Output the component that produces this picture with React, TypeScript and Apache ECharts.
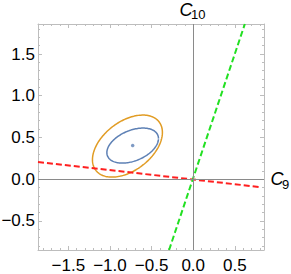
import React, { useEffect, useRef } from "react";
import * as echarts from "echarts";

const xLimits = [-1.864, 0.85];
const yLimits = [-0.85, 1.86];
const xMajorTicks = [-1.5, -1.0, -0.5, 0.0, 0.5];
const yMajorTicks = [-0.5, 0.0, 0.5, 1.0, 1.5];
const xMinorTicks = [-1.8, -1.7, -1.6, -1.4, -1.3, -1.2, -1.1, -0.9, -0.8, -0.7, -0.6, -0.4, -0.3, -0.2, -0.1, 0.1, 0.2, 0.3, 0.4, 0.6, 0.7, 0.8];
const yMinorTicks = [-0.8, -0.7, -0.6, -0.4, -0.3, -0.2, -0.1, 0.1, 0.2, 0.3, 0.4, 0.6, 0.7, 0.8, 0.9, 1.1, 1.2, 1.3, 1.4, 1.6, 1.7, 1.8];

const bestFitPoint = [[-0.727, 0.402]];
// [center x, center y, half-width, half-height, correlation]
const innerEllipse = [-0.727, 0.402, 0.31, 0.21, 0.4];
const outerEllipse = [-0.79, 0.396, 0.42, 0.372, 0.44];
const redLine = [[-1.864, 0.205], [0.8, -0.095]];
const greenLine = [[-0.29, -0.85], [0.62, 1.86]];

const FONT = "'Liberation Sans', Arial, sans-serif";
const FRAME = "#bdbdbd";
const BLUE = "#5e81b5";
const ORANGE = "#e19c24";

function ellipsePoints(p: number[]) {
  const [cx, cy, sx, sy, rho] = p;
  const pts: number[][] = [];
  const n = 160;
  for (let i = 0; i <= n; i++) {
    const t = (2 * Math.PI * i) / n;
    pts.push([cx + sx * Math.cos(t), cy + sy * (rho * Math.cos(t) + Math.sqrt(1 - rho * rho) * Math.sin(t))]);
  }
  return pts;
}

const fmt = (v: number) => (v < 0 ? "\u2212" : "") + Math.abs(v).toFixed(1);

export default function App() {
  const ref = useRef<HTMLDivElement>(null);
  useEffect(() => {
    if (!ref.current) return;
    const chart = echarts.init(ref.current, null, { renderer: "svg" });
    const gridRect = { left: 38, top: 24, width: 226, height: 226, outerBoundsMode: "none" };
    const baseX = (gridIndex: number, position: string) => ({
      type: "value",
      gridIndex,
      position,
      min: xLimits[0],
      max: xLimits[1],
      splitLine: { show: false },
    });
    const baseY = (gridIndex: number, position: string) => ({
      type: "value",
      gridIndex,
      position,
      min: yLimits[0],
      max: yLimits[1],
      splitLine: { show: false },
    });
    const majorX = (position: string, labels: boolean) => ({
      ...baseX(0, position),
      axisLine: { show: true, onZero: false, lineStyle: { color: FRAME, width: 1 } },
      axisTick: { show: true, inside: true, length: 4, customValues: xMajorTicks, lineStyle: { color: FRAME } },
      axisLabel: {
        show: labels,
        customValues: xMajorTicks,
        formatter: fmt,
        color: "#000",
        fontSize: 17,
        fontFamily: FONT,
        margin: 7,
      },
    });
    const majorY = (position: string, labels: boolean) => ({
      ...baseY(0, position),
      axisLine: { show: true, onZero: false, lineStyle: { color: FRAME, width: 1 } },
      axisTick: { show: true, inside: true, length: 4, customValues: yMajorTicks, lineStyle: { color: FRAME } },
      axisLabel: {
        show: labels,
        customValues: yMajorTicks,
        formatter: fmt,
        color: "#000",
        fontSize: 17,
        fontFamily: FONT,
        margin: 3,
      },
    });
    const minorX = (position: string) => ({
      ...baseX(1, position),
      axisLine: { show: false, onZero: false },
      axisTick: { show: true, inside: true, length: 2, customValues: xMinorTicks, lineStyle: { color: FRAME } },
      axisLabel: { show: false },
    });
    const minorY = (position: string) => ({
      ...baseY(1, position),
      axisLine: { show: false, onZero: false },
      axisTick: { show: true, inside: true, length: 2, customValues: yMinorTicks, lineStyle: { color: FRAME } },
      axisLabel: { show: false },
    });

    chart.setOption({
      animation: false,
      grid: [gridRect, gridRect],
      xAxis: [majorX("bottom", true), majorX("top", false), minorX("bottom"), minorX("top")],
      yAxis: [majorY("left", true), majorY("right", false), minorY("left"), minorY("right")],
      series: [
        {
          type: "line",
          xAxisIndex: 0,
          yAxisIndex: 0,
          data: [],
          z: 1,
          markLine: {
            silent: true,
            symbol: "none",
            label: { show: false },
            lineStyle: { color: "#8a8a8a", width: 1, type: "solid" },
            data: [{ xAxis: 0 }, { yAxis: 0 }],
          },
        },
        {
          type: "line",
          data: ellipsePoints(outerEllipse),
          showSymbol: false,
          lineStyle: { color: ORANGE, width: 1.5 },
          z: 2,
        },
        {
          type: "line",
          data: ellipsePoints(innerEllipse),
          showSymbol: false,
          lineStyle: { color: BLUE, width: 1.5 },
          z: 2,
        },
        {
          type: "scatter",
          data: bestFitPoint,
          symbolSize: 3.5,
          itemStyle: { color: BLUE },
          z: 3,
        },
        {
          type: "line",
          data: redLine,
          showSymbol: false,
          lineStyle: { color: "#ff1f1f", width: 2, type: [6, 3] },
          z: 4,
        },
        {
          type: "line",
          data: greenLine,
          showSymbol: false,
          lineStyle: { color: "#22e022", width: 2, type: [6, 3] },
          z: 4,
        },
      ],
      graphic: [
        { type: "text", x: 179.5, y: 10, style: { text: "C", font: `italic 18px ${FONT}`, fill: "#000", textAlign: "left", textVerticalAlign: "middle" } },
        { type: "text", x: 191, y: 14.8, style: { text: "10", font: `13px ${FONT}`, fill: "#000", textAlign: "left", textVerticalAlign: "middle" } },
        { type: "text", x: 270.5, y: 179.3, style: { text: "C", font: `italic 18px ${FONT}`, fill: "#000", textAlign: "left", textVerticalAlign: "middle" } },
        { type: "text", x: 282, y: 184, style: { text: "9", font: `13px ${FONT}`, fill: "#000", textAlign: "left", textVerticalAlign: "middle" } },
      ],
    });
    return () => chart.dispose();
  }, []);
  return <div ref={ref} style={{ position: "absolute", left: 0, top: 0, width: 291, height: 274 }} />;
}
